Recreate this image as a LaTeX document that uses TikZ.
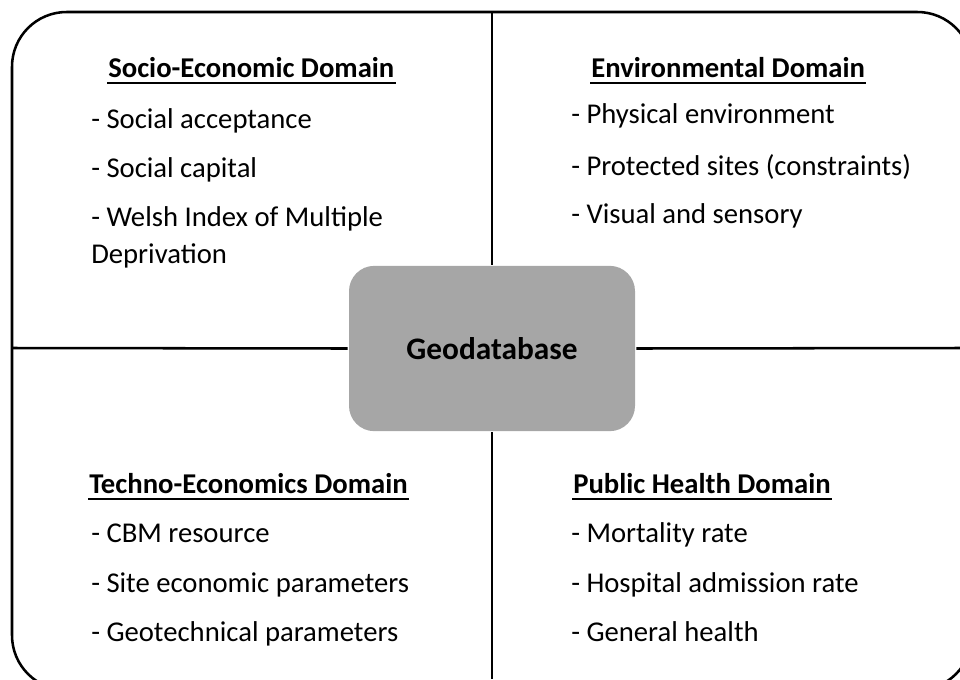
\documentclass[tikz,border=0pt]{standalone}
\usepackage{fontspec}
\setmainfont{Carlito}
\definecolor{dbgray}{RGB}{166,166,166}
\tikzset{
  domhead/.style={anchor=base west,inner sep=0pt,font=\fontsize{21.5}{26}\selectfont\bfseries},
  entry/.style={anchor=base west,inner sep=0pt,font=\fontsize{21.5}{26}\selectfont},
  uline/.style={line width=1.5pt}
}
\begin{document}
\begin{tikzpicture}[x=0.75pt,y=-0.75pt,line width=1.9pt]
  \useasboundingbox (0,0) rectangle (960,679);

  % frame
  \draw[rounded corners=41pt] (12,12) rectangle (972,690);
  \coordinate (top) at (492,12);
  \coordinate (bottom) at (492,679);
  \coordinate (left) at (12,348);
  \coordinate (right) at (960,348);

  % centre box
  \node (db) [at={(492,348.5)},fill=dbgray,rounded corners=19pt,
    minimum width=214.5pt,minimum height=124pt,
    font=\fontsize{23.5}{28}\selectfont\bfseries]{Geodatabase};
  \draw (top) -- (db.north) (db.south) -- (bottom);
  \draw (left) -- (db.west) (db.east) -- (right);

  % top left
  \node (soc) [domhead,at={(107,77)}]{Socio-Economic Domain};
  \draw[uline] ([yshift=-4.5pt]soc.base west) -- ([yshift=-4.5pt]soc.base east);
  \node (soc1) [entry,at={(90,128)}]{- Social acceptance};
  \node (soc2) [entry,at={(90,177)}]{- Social capital};
  \node (soc3) [entry,at={(90,226)}]{- Welsh Index of Multiple};
  \node (soc4) [entry,at={(90,263)}]{Deprivation};

  % top right
  \node (env) [domhead,at={(590,77)}]{Environmental Domain};
  \draw[uline] ([yshift=-4.5pt]env.base west) -- ([yshift=-4.5pt]env.base east);
  \node (env1) [entry,at={(570,123)}]{- Physical environment};
  \node (env2) [entry,at={(570,175)}]{- Protected sites (constraints)};
  \node (env3) [entry,at={(570,223)}]{- Visual and sensory};

  % bottom left
  \node (tec) [domhead,at={(88,493)}]{Techno-Economics Domain};
  \draw[uline] ([yshift=-4.5pt]tec.base west) -- ([yshift=-4.5pt]tec.base east);
  \node (tec1) [entry,at={(90,542)}]{- CBM resource};
  \node (tec2) [entry,at={(90,592)}]{- Site economic parameters};
  \node (tec3) [entry,at={(90,641)}]{- Geotechnical parameters};

  % bottom right
  \node (pub) [domhead,at={(572,493)}]{Public Health Domain};
  \draw[uline] ([yshift=-4.5pt]pub.base west) -- ([yshift=-4.5pt]pub.base east);
  \node (pub1) [entry,at={(570,542)}]{- Mortality rate};
  \node (pub2) [entry,at={(570,592)}]{- Hospital admission rate};
  \node (pub3) [entry,at={(570,641)}]{- General health};
\end{tikzpicture}
\end{document}
